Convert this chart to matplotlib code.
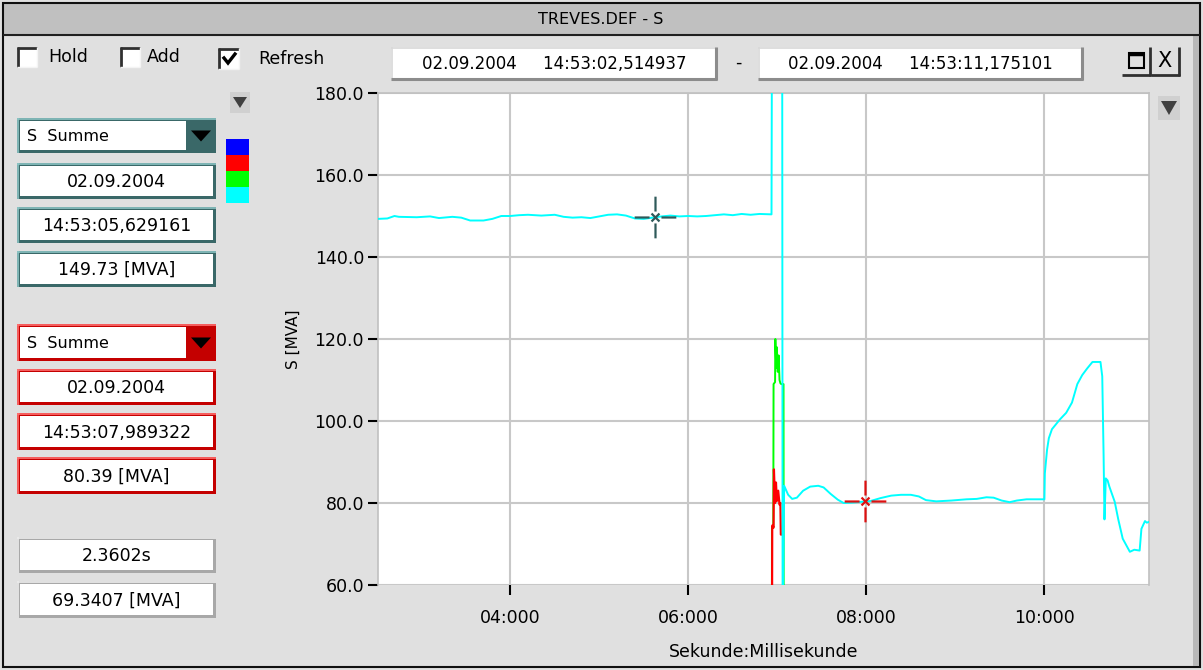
import numpy as np
import matplotlib
matplotlib.use("Agg")
import matplotlib.pyplot as plt
from matplotlib.patches import Rectangle, Polygon
from matplotlib.path import Path
from matplotlib.ticker import FuncFormatter, MultipleLocator

plt.rcParams["font.family"] = ["DejaVu Sans"]

# ─── data ─────────────────────────────────────────────────────────────────────
T_START = 2.514937          # 14:53:02,514937
T_END = 11.175101           # 14:53:11,175101

cyan_t = [2.515, 2.62, 2.70, 2.75, 2.95, 3.10, 3.20, 3.35, 3.45, 3.55, 3.70,
          3.80, 3.90, 4.00, 4.10, 4.20, 4.35, 4.50, 4.60, 4.70, 4.80, 4.90,
          5.00, 5.10, 5.20, 5.30, 5.40, 5.50, 5.60, 5.70, 5.80, 5.90, 6.00,
          6.10, 6.20, 6.30, 6.40, 6.50, 6.60, 6.70, 6.80, 6.935,
          6.94, 7.055, 7.06, 7.077, 7.122, 7.167, 7.22, 7.29, 7.37, 7.46,
          7.52, 7.60, 7.68, 7.745, 7.85, 7.95, 8.05, 8.16, 8.28, 8.39, 8.50,
          8.59, 8.67, 8.785, 8.955, 9.125, 9.24, 9.35, 9.43, 9.52, 9.61,
          9.69, 9.80, 10.0, 10.005, 10.03, 10.05, 10.085, 10.175, 10.245,
          10.31, 10.37, 10.425, 10.48, 10.54, 10.63, 10.65, 10.665, 10.675,
          10.69, 10.71, 10.73, 10.79, 10.83, 10.88, 10.96, 11.01, 11.07,
          11.09, 11.13, 11.15, 11.175]
cyan_v = [149.3, 149.4, 150.0, 149.8, 149.7, 149.9, 149.5, 149.8, 149.6, 148.9,
          148.9, 149.3, 150.0, 150.0, 150.2, 150.3, 150.1, 150.3, 149.8, 149.6,
          149.7, 149.5, 149.9, 150.3, 150.4, 150.1, 149.4, 149.3, 149.6, 149.9,
          150.1, 149.9, 150.0, 149.9, 150.0, 150.2, 150.4, 150.2, 150.5, 150.3,
          150.5, 150.4,
          195.0, 195.0, 45.0, 84.2, 82.0, 81.0, 81.3, 83.0, 84.0, 84.2,
          83.8, 82.2, 80.8, 80.0, 80.1, 80.3, 80.5, 81.2, 81.8, 82.0, 82.0,
          81.6, 80.7, 80.4, 80.6, 80.9, 81.0, 81.4, 81.3, 80.6, 80.2,
          80.6, 80.9, 80.9, 87.2, 93.0, 95.8, 98.0, 100.4, 102.0,
          104.5, 109.0, 111.2, 112.8, 114.4, 114.4, 110.9, 91.8, 76.0,
          86.0, 85.5, 84.0, 80.3, 76.0, 71.3, 68.1, 68.6, 68.4,
          73.7, 75.6, 75.2, 75.4]

green_t = [6.939, 6.940, 6.955, 6.958, 6.975, 6.978, 6.988, 6.995, 7.005,
           7.015, 7.025, 7.035, 7.045, 7.070, 7.072]
green_v = [45.0, 74.0, 74.0, 109.0, 109.5, 120.0, 113.0, 118.0, 112.0,
           116.0, 110.0, 109.2, 109.0, 109.0, 45.0]

red_t = [6.940, 6.943, 6.958, 6.962, 6.975, 6.985, 6.995, 7.010, 7.025,
         7.035, 7.040, 7.045]
red_v = [45.0, 74.5, 74.0, 88.2, 80.0, 85.0, 80.5, 83.0, 79.6, 80.0, 72.3, 72.3]

# cursors: time (s), value (MVA)
cursor_t = [5.629161, 7.989322]
cursor_v = [149.73, 80.39]
cursor_date = "02.09.2004"
cursor_time = ["14:53:05,629161", "14:53:07,989322"]
delta_text = ["2.3602s", "69.3407 [MVA]"]

y_ticks = [60, 80, 100, 120, 140, 160, 180]
x_ticks = [4, 6, 8, 10]
swatches = ["#0000ff", "#ff0000", "#00ff00", "#00ffff"]

# ─── figure ───────────────────────────────────────────────────────────────────
W, H = 1203, 670
fig = plt.figure(figsize=(W / 100, H / 100), dpi=100)
fig.patch.set_facecolor("#e0e0e0")

ui = fig.add_axes([0, 0, 1, 1], zorder=0)
ui.set_xlim(0, W)
ui.set_ylim(H, 0)
ui.axis("off")

FS = 12.5


def rect(x0, y0, x1, y1, **kw):
    ui.add_patch(Rectangle((x0, y0), x1 - x0, y1 - y0, **kw))


def line(xs, ys, c, lw=1.0):
    ui.plot(xs, ys, color=c, lw=lw, solid_capstyle="butt")


def field(x0, y0, x1, y1, text, dark, light, fs=FS, ha="center"):
    rect(x0, y0, x1, y1, fc=dark, ec="none")
    line([x0, x1], [y0 + 0.5, y0 + 0.5], light, 1.2)
    line([x0 + 0.5, x0 + 0.5], [y0, y1], light, 1.2)
    rect(x0 + 3, y0 + 3, x1 - 3, y1 - 3, fc="white", ec="none")
    if text:
        tx = (x0 + x1) / 2 if ha == "center" else x0 + 12
        ui.text(tx, (y0 + y1) / 2 + 1, text, ha=ha, va="center",
                fontsize=fs, color="black")


def combo(x0, y0, x1, y1, text, dark, light):
    field(x0, y0, x1, y1, "", dark, light)
    rect(x1 - 30, y0, x1, y1, fc=dark, ec="none")
    cx, cy = x1 - 15, (y0 + y1) / 2
    ui.add_patch(Polygon([[cx - 10, cy - 5], [cx + 10, cy - 5], [cx, cy + 6]],
                         closed=True, fc="black", ec="none"))
    ui.text(x0 + 10, (y0 + y1) / 2 + 1, text, ha="left", va="center",
            fontsize=FS - 1, color="black")


def checkbox(x0, y0, size, label, lx, checked=False):
    rect(x0, y0, x0 + size, y0 + size, fc="white", ec="none")
    line([x0, x0 + size], [y0 + 1, y0 + 1], "#303030", 2)
    line([x0 + 1, x0 + 1], [y0, y0 + size], "#303030", 2)
    line([x0, x0 + size], [y0 + size, y0 + size], "#f4f4f4", 1)
    line([x0 + size, x0 + size], [y0, y0 + size], "#f4f4f4", 1)
    if checked:
        ui.plot([x0 + 6, x0 + 10, x0 + 17], [y0 + 10, y0 + 15, y0 + 6],
                color="black", lw=2.4, solid_joinstyle="miter")
    ui.text(lx, y0 + size / 2, label, ha="left", va="center", fontsize=FS)


def scroll_icon(x0, y0, w, h):
    rect(x0, y0, x0 + w, y0 + h, fc="#d0d0d0", ec="none", hatch="....",
         lw=0)
    ui.add_patch(Polygon([[x0 + 3, y0 + 5], [x0 + w - 3, y0 + 5],
                          [x0 + w / 2, y0 + h - 5]],
                         closed=True, fc="#404040", ec="none"))


# window frame and title bar
rect(3, 3, 1200, 35, fc="#c0c0c0", ec="none")
line([3, 1200], [35, 35], "#202020", 1.5)
rect(3, 3, 1200, 667, fc="none", ec="#101010", lw=1.5)
rect(1193, 36, 1199, 666, fc="#b8b8b8", ec="none")
ui.text(601, 19, "TREVES.DEF - S", ha="center", va="center", fontsize=11.5)

# checkboxes
checkbox(17, 47, 20, "Hold", 48)
checkbox(120, 47, 20, "Add", 147)
checkbox(218, 48, 21, "Refresh", 258, checked=True)

# time range boxes
for x0, x1, txt in [(391, 717, "02.09.2004     14:53:02,514937"),
                    (758, 1083, "02.09.2004     14:53:11,175101")]:
    rect(x0, 47, x1, 80, fc="white", ec="none")
    line([x0, x1], [48, 48], "#d8d8d8", 1.2)
    line([x0 + 1, x0 + 1], [47, 80], "#d8d8d8", 1.2)
    line([x0, x1], [79, 79], "#8c8c8c", 2.2)
    line([x1 - 1, x1 - 1], [47, 80], "#8c8c8c", 2.2)
    ui.text((x0 + x1) / 2, 64, txt, ha="center", va="center", fontsize=FS - 0.5)
ui.text(738, 63, "-", ha="center", va="center", fontsize=FS)

# window buttons
for bx in (1122, 1151):
    rect(bx, 47, bx + 29, 76, fc="#e0e0e0", ec="none")
    line([bx, bx + 29], [75, 75], "#303030", 2)
    line([bx + 28, bx + 28], [47, 76], "#303030", 2)
rect(1129, 53, 1144, 68, fc="none", ec="black", lw=1.5)
line([1129, 1144], [54, 54], "black", 2.5)
ui.text(1165, 61, "X", ha="center", va="center", fontsize=15)

scroll_icon(230, 92, 20, 21)
scroll_icon(1158, 96, 22, 24)

# colour swatches
for i, c in enumerate(swatches):
    rect(226, 139 + 16 * i, 249, 155 + 16 * i, fc=c, ec="none")

# cursor 1 (teal)
teal_d, teal_l = "#3a6868", "#8cc4c4"
combo(17, 118, 216, 153, "S  Summe", teal_d, teal_l)
field(17, 163, 216, 199, cursor_date, teal_d, teal_l)
field(17, 207, 216, 243, cursor_time[0], teal_d, teal_l)
field(17, 251, 216, 287, f"{cursor_v[0]:.2f} [MVA]", teal_d, teal_l)

# cursor 2 (red)
red_d, red_l = "#c40000", "#ff7070"
combo(17, 324, 216, 361, "S  Summe", red_d, red_l)
field(17, 369, 216, 405, cursor_date, red_d, red_l)
field(17, 413, 216, 450, cursor_time[1], red_d, red_l)
field(17, 457, 216, 494, f"{cursor_v[1]:.2f} [MVA]", red_d, red_l)

# difference
field(17, 537, 216, 573, delta_text[0], "#a8a8a8", "#ececec")
field(17, 581, 216, 618, delta_text[1], "#a8a8a8", "#ececec")

# ─── chart ────────────────────────────────────────────────────────────────────
L, R, TOP, BOT = 378, 1149, 93, 585
ax = fig.add_axes([L / W, (H - BOT) / H, (R - L) / W, (BOT - TOP) / H],
                  zorder=2)
ax.set_facecolor("white")
ax.set_xlim(T_START, T_END)
ax.set_ylim(60, 180)
ax.set_yticks(y_ticks)
ax.set_xticks(x_ticks)
ax.yaxis.set_major_formatter(FuncFormatter(lambda v, p: f"{v:.1f}"))
ax.xaxis.set_major_formatter(
    FuncFormatter(lambda v, p: f"{int(v):02d}:{int(round((v % 1) * 1000)):03d}"))
ax.grid(True, color="#c8c8c8", lw=1.5)
ax.set_axisbelow(True)
for s in ax.spines.values():
    s.set_color("#c0c0c0")
    s.set_linewidth(1.2)
ax.spines["bottom"].set_visible(False)
ax.tick_params(axis="y", direction="out", length=7, width=1.5, pad=3,
               labelsize=FS, colors="black")
ax.tick_params(axis="x", direction="out", length=7, width=1.5, pad=10,
               labelsize=FS, colors="black")
ax.set_xlabel("Sekunde:Millisekunde", fontsize=FS, labelpad=12)
ax.set_ylabel("S [MVA]", fontsize=11, labelpad=10)

ax.plot(green_t, green_v, color="#00ff00", lw=1.4, zorder=3)
ax.plot(red_t, red_v, color="#ff0000", lw=1.6, zorder=4)
ax.plot(cyan_t, cyan_v, color="#00ffff", lw=1.4, zorder=5)

# cursor crosshairs
cross = Path([(0, 6), (0, 21), (0, -6), (0, -21), (6, 0), (21, 0),
              (-6, 0), (-21, 0), (-4, -4), (4, 4), (-4, 4), (4, -4)],
             [Path.MOVETO, Path.LINETO] * 6)
for t, v, c in zip(cursor_t, cursor_v, ["#2f5a5a", "#dd1010"]):
    ax.plot([t], [v], marker=cross, markersize=30, markeredgewidth=1.6,
            color=c, linestyle="none", zorder=6)

fig.savefig("out.png", dpi=100, facecolor=fig.get_facecolor())
